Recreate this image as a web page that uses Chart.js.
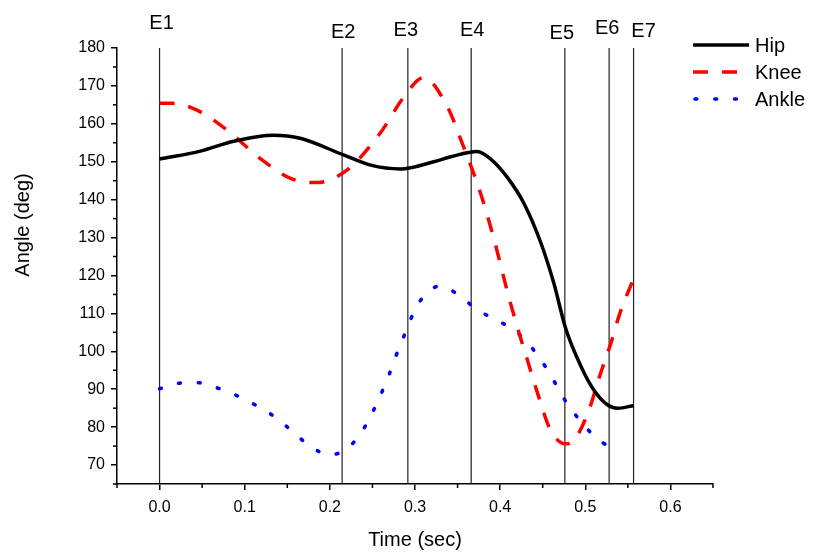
<!DOCTYPE html>
<html>
<head>
<meta charset="utf-8">
<script src="https://cdn.jsdelivr.net/npm/chart.js@4.4.1/dist/chart.umd.min.js"></script>
<style>
  body { margin: 0; background: #fff; }
  canvas { display: block; }
</style>
</head>
<body>
<canvas id="joint-chart" width="814" height="557"></canvas>
<script>
// joint angles over one gait cycle
const hipTime = [0, 0.048, 0.087, 0.134, 0.165, 0.216, 0.248, 0.283, 0.322, 0.342, 0.373, 0.389, 0.408, 0.428, 0.448, 0.463, 0.477, 0.495, 0.510, 0.526, 0.538, 0.557];
const hipAngle = [150.7, 152.8, 155.4, 157.0, 156.2, 151.8, 149.1, 148.1, 150.0, 151.3, 152.7, 150.7, 146, 139, 128.5, 118, 106, 96, 89.8, 85.9, 85.0, 85.7];

const kneeTime = [0, 0.016, 0.044, 0.079, 0.118, 0.154, 0.185, 0.22, 0.259, 0.287, 0.310, 0.338, 0.354, 0.377, 0.393, 0.409, 0.420, 0.432, 0.444, 0.459, 0.477, 0.487, 0.503, 0.518, 0.530, 0.540, 0.556];
const kneeAngle = [165.4, 165.4, 163.6, 158.4, 150.9, 145.6, 144.5, 147.8, 157.5, 167.1, 172.2, 164.5, 155.7, 141.7, 129.4, 115.3, 106.5, 97.7, 88.9, 79.3, 75.6, 76.6, 83.7, 94.2, 102.1, 109.6, 118.8];

const ankleTime = [0, 0.024, 0.046, 0.067, 0.09, 0.112, 0.134, 0.156, 0.178, 0.2, 0.221, 0.239, 0.251, 0.261, 0.270, 0.278, 0.287, 0.296, 0.308, 0.329, 0.351, 0.373, 0.395, 0.417, 0.437, 0.453, 0.466, 0.479, 0.496, 0.516, 0.539];
const ankleAngle = [90.1, 91.6, 91.7, 90.4, 88.4, 85.9, 82.9, 78.9, 74.8, 72.7, 74.5, 79.3, 84.3, 89.2, 94.1, 99.0, 104, 109, 113.9, 117.2, 114.9, 111, 108.3, 105.5, 101, 96, 91.1, 86.1, 81.2, 76.5, 74.1];

// gait events
const eventTimes = [0, 0.2144, 0.2916, 0.366, 0.476, 0.528, 0.5567];
const eventLabels = ['E1', 'E2', 'E3', 'E4', 'E5', 'E6', 'E7'];

const xTickValues = [0, 0.1, 0.2, 0.3, 0.4, 0.5, 0.6];
const yTickValues = [70, 80, 90, 100, 110, 120, 130, 140, 150, 160, 170, 180];

const X_MIN = -0.05, X_MAX = 0.65, Y_MIN = 65, Y_MAX = 180;

const FONT = '"Liberation Sans", Arial, sans-serif';

const pts = (xs, ys) => xs.map((x, i) => ({ x: x, y: ys[i] }));

const curves = [
  { label: 'Hip', data: pts(hipTime, hipAngle), borderColor: '#000', borderWidth: 3.5, borderDash: [], borderCapStyle: 'butt', order: 0 },
  { label: 'Knee', data: pts(kneeTime, kneeAngle), borderColor: '#ff0000', borderWidth: 3.5, borderDash: [15, 14], borderCapStyle: 'butt', order: 1 },
  { label: 'Ankle', data: pts(ankleTime, ankleAngle), borderColor: '#0000ff', borderWidth: 3.6, borderDash: [1.8, 18], borderCapStyle: 'round', order: 2 },
];
curves.forEach(c => { c.cubicInterpolationMode = 'monotone'; });

const eventLines = eventTimes.map((t, i) => ({
  label: eventLabels[i],
  data: [{ x: t, y: Y_MIN }, { x: t, y: Y_MAX }],
  borderColor: '#222',
  borderWidth: 1.2,
  order: 5,
  tension: 0,
}));

// minor ticks, event captions, legend and axis titles
const decorations = {
  id: 'decorations',
  afterDraw(chart) {
    const ctx = chart.ctx;
    const xs = chart.scales.x, ys = chart.scales.y;
    const area = chart.chartArea;
    ctx.save();

    // minor ticks halfway between major ones
    ctx.strokeStyle = '#000';
    ctx.lineWidth = 1.5;
    const xStep = xTickValues[1] - xTickValues[0];
    for (let v = xTickValues[0] - xStep / 2; v <= X_MAX + 1e-9; v += xStep) {
      if (v < X_MIN - 1e-9) continue;
      const px = xs.getPixelForValue(v);
      ctx.beginPath();
      ctx.moveTo(px, area.bottom);
      ctx.lineTo(px, area.bottom + 4);
      ctx.stroke();
    }
    const yStep = yTickValues[1] - yTickValues[0];
    for (let v = yTickValues[0] - yStep / 2; v <= Y_MAX + 1e-9; v += yStep) {
      if (v < Y_MIN - 1e-9) continue;
      const py = ys.getPixelForValue(v);
      ctx.beginPath();
      ctx.moveTo(area.left, py);
      ctx.lineTo(area.left - 4, py);
      ctx.stroke();
    }

    // event captions above each line
    const lift = [25, 16, 18, 18, 15, 20, 17];
    const shift = [2, 1, -2, 1, -3, -2, 10];
    ctx.fillStyle = '#000';
    ctx.font = '20px ' + FONT;
    ctx.textAlign = 'center';
    ctx.textBaseline = 'middle';
    eventTimes.forEach((t, i) => {
      ctx.fillText(eventLabels[i], xs.getPixelForValue(t) + shift[i], area.top - lift[i]);
    });

    // legend
    const lx = 693, ly = 45, rowGap = 27;
    curves.forEach((c, i) => {
      const y = ly + i * rowGap;
      ctx.strokeStyle = c.borderColor;
      ctx.lineWidth = c.borderWidth;
      ctx.lineCap = c.borderCapStyle;
      ctx.setLineDash(c.borderDash);
      ctx.beginPath();
      ctx.moveTo(i === 2 ? 695 : lx, y);
      ctx.lineTo(i === 0 ? 749 : 740, y);
      ctx.stroke();
      ctx.setLineDash([]);
      ctx.fillStyle = '#000';
      ctx.textAlign = 'left';
      ctx.font = '20px ' + FONT;
      ctx.fillText(c.label, 755, y + 1);
    });

    // axis titles
    ctx.textAlign = 'center';
    ctx.font = '20px ' + FONT;
    ctx.fillText('Time (sec)', (area.left + area.right) / 2, 540);
    ctx.translate(23, 225);
    ctx.rotate(-Math.PI / 2);
    ctx.fillText('Angle (deg)', 0, 0);

    ctx.restore();
  }
};

new Chart(document.getElementById('joint-chart'), {
  type: 'line',
  data: { datasets: curves.concat(eventLines) },
  options: {
    responsive: false,
    animation: false,
    layout: { padding: { top: 48, right: 101, left: 0, bottom: 0 } },
    elements: {
      point: { radius: 0 },
      line: { fill: false },
    },
    plugins: { legend: { display: false }, tooltip: { enabled: false } },
    scales: {
      x: {
        type: 'linear',
        min: X_MIN,
        max: X_MAX,
        afterBuildTicks: (scale) => { scale.ticks = xTickValues.map(v => ({ value: v })); },
        afterFit: (scale) => { scale.height = 73; },
        grid: { drawOnChartArea: false, color: '#000', lineWidth: 1.5, tickLength: 6 },
        border: { color: '#000', width: 1.5 },
        ticks: {
          color: '#000',
          font: { family: FONT, size: 16 },
          padding: 8,
          maxRotation: 0,
          callback: (v) => v.toFixed(1),
        },
      },
      y: {
        type: 'linear',
        min: Y_MIN,
        max: Y_MAX,
        afterBuildTicks: (scale) => { scale.ticks = yTickValues.map(v => ({ value: v })); },
        afterFit: (scale) => { scale.width = 117; },
        grid: { drawOnChartArea: false, color: '#000', lineWidth: 1.5, tickLength: 6 },
        border: { color: '#000', width: 1.5 },
        ticks: {
          color: '#000',
          font: { family: FONT, size: 16 },
          padding: 6,
        },
      },
    },
  },
  plugins: [decorations],
});
</script>
</body>
</html>
